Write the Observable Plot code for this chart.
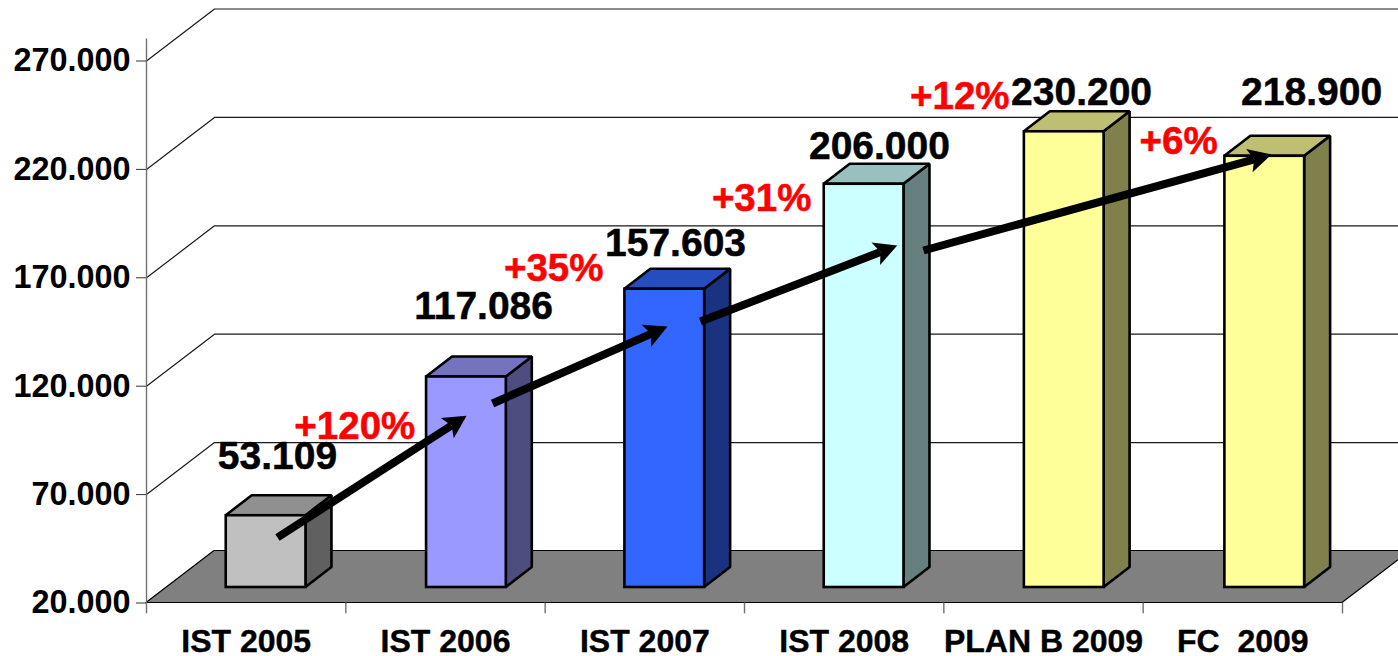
<!DOCTYPE html>
<html>
<head>
<meta charset="utf-8">
<script src="https://cdn.jsdelivr.net/npm/d3@7"></script>
<script src="https://cdn.jsdelivr.net/npm/@observablehq/plot@0.6"></script>
<style>html,body{margin:0;padding:0;background:#fff}svg{display:block}</style>
</head>
<body>
<div id="chart"></div>
<script>
const categories = ["IST 2005", "IST 2006", "IST 2007", "IST 2008", "PLAN B 2009", "FC  2009"];
const values = [53109, 117086, 157603, 206000, 230200, 218900];
const frontColors = ["#C0C0C0", "#9999FF", "#3366FF", "#CCFFFF", "#FFFF99", "#FFFF99"];
const topColors = ["#909090", "#7373BF", "#264DBF", "#99BFBF", "#BFBF73", "#BFBF73"];
const sideColors = ["#606060", "#4D4D80", "#1A3380", "#668080", "#80804D", "#80804D"];
const yTicks = [20000, 70000, 120000, 170000, 220000, 270000];

// value labels, placed in category units / value units
const labelX = [0.657, 1.691, 2.654, 3.677, 4.691, 5.845];
const labelY = [87570, 156760, 185800, 230560, 255470, 255470];

// growth annotations
const growth = ["+120%", "+35%", "+31%", "+12%", "+6%"];
const growthX = [1.045, 2.043, 3.086, 4.08, 5.178];
const growthY = [101400, 174300, 206600, 253600, 232860];

// arrows
const arrowX1 = [0.657, 1.736, 2.779, 3.898];
const arrowY1 = [50210, 112020, 149840, 182590];
const arrowX2 = [1.530, 2.531, 3.682, 5.557];
const arrowY2 = [101870, 144170, 181900, 224660];

// 3D projection in data units
const base = 20000;
const wallDX = 0.3411, wallDY = 23985;   // depth of the floor
const barSlot = [0.4, 1.405, 2.4, 3.4, 4.404, 5.41]; // left edge of each bar front
const barOffY = 7150;                    // where the bar front sits on the floor
const barW = 0.4;
const barDX = 0.1304, barDY = 9225;      // depth of a bar
const farRight = 6.5;

const font = "'Liberation Sans', Arial, sans-serif";
const fmt = d3.formatLocale({decimal: ",", thousands: ".", grouping: [3], currency: ["", ""]}).format(",d");

function headMarker(color, context) {
  const ns = "http://www.w3.org/2000/svg";
  const m = context.document.createElementNS(ns, "marker");
  m.setAttribute("viewBox", "-6 -13 28 26");
  m.setAttribute("markerWidth", 28);
  m.setAttribute("markerHeight", 26);
  m.setAttribute("markerUnits", "userSpaceOnUse");
  m.setAttribute("refX", 0);
  m.setAttribute("refY", 0);
  m.setAttribute("orient", "auto");
  const p = context.document.createElementNS(ns, "path");
  p.setAttribute("d", "M18,0L-5,-12L0,0L-5,12Z");
  p.setAttribute("fill", color);
  p.setAttribute("stroke", "none");
  m.appendChild(p);
  return m;
}

const gridRows = yTicks.slice(1).flatMap(v => [
  {v, x: 0, y: v},
  {v, x: wallDX, y: v + wallDY},
  {v, x: farRight, y: v + wallDY}
]);

const barStroke = {stroke: "#000", strokeWidth: 2.6, strokeLinejoin: "miter"};

const barMarks = values.flatMap((v, i) => {
  const left = barSlot[i], right = left + barW;
  const y0 = base + barOffY;              // bar foot on the floor
  const yTop = v + barOffY;               // bar height measured from the same foot
  return [
    Plot.areaY([0, 1], {
      x: t => right + t * barDX,
      y1: t => y0 + t * barDY,
      y2: t => yTop + t * barDY,
      fill: sideColors[i], ...barStroke
    }),
    Plot.areaX([0, 1], {
      y: t => yTop + t * barDY,
      x1: t => left + t * barDX,
      x2: t => right + t * barDX,
      fill: topColors[i], ...barStroke
    }),
    Plot.rect([v], {
      x1: left, x2: right, y1: y0, y2: yTop,
      fill: frontColors[i], ...barStroke
    })
  ];
});

const chart = Plot.plot({
  width: 1398,
  height: 656,
  marginLeft: 146,
  marginRight: 56,
  marginTop: 0,
  marginBottom: 0,
  style: {fontFamily: font, background: "#fff"},
  x: {domain: [0, 6], range: [146, 1342], axis: null},
  y: {domain: [20000, 270000], range: [602.5, 60.5], axis: null},
  marks: [
    // back wall grid lines
    Plot.line(gridRows, {x: "x", y: "y", z: "v", stroke: "#1a1a1a", strokeWidth: 1.2}),
    // floor
    Plot.areaX([0, 1], {
      y: t => base + t * wallDY,
      x1: t => t * wallDX,
      x2: t => 6 + t * wallDX,
      fill: "#808080", stroke: "#000", strokeWidth: 1.2
    }),
    ...barMarks,
    // axes
    Plot.ruleX([0], {y1: 15000, y2: 280100, stroke: "#707070", strokeWidth: 1.4}),
    Plot.axisY({
      ticks: yTicks, tickSize: 10, tickPadding: 6, label: null,
      tickFormat: fmt, fontSize: 32.4, fontWeight: "bold", stroke: "#333",
      fill: "#000", textStroke: "none"
    }),
    Plot.ruleX([1, 2, 3, 4, 5, 6], {y1: 20000, y2: 15000, stroke: "#707070", strokeWidth: 1.4}),
    Plot.text(categories, {
      x: (d, i) => i + 0.5, y: base, dy: 38.5, text: d => d,
      fontSize: 32, fontWeight: "bold", fill: "#000", stroke: "#000", strokeWidth: 0.4
    }),
    // arrows
    Plot.link(arrowX1, {
      x1: arrowX1, y1: arrowY1, x2: arrowX2, y2: arrowY2,
      stroke: "#000", strokeWidth: 8, markerEnd: headMarker
    }),
    // value labels
    Plot.text(values, {
      x: labelX, y: labelY, text: d => fmt(d),
      fontSize: 39, fontWeight: "bold", fill: "#000", stroke: "#000", strokeWidth: 0.5
    }),
    // growth labels
    Plot.text(growth, {
      x: growthX, y: growthY, text: d => d,
      fontSize: 38.5, fontWeight: "bold", fill: "#FF0000", stroke: "#FF0000", strokeWidth: 0.5
    })
  ]
});
document.getElementById("chart").appendChild(chart);
</script>
</body>
</html>
